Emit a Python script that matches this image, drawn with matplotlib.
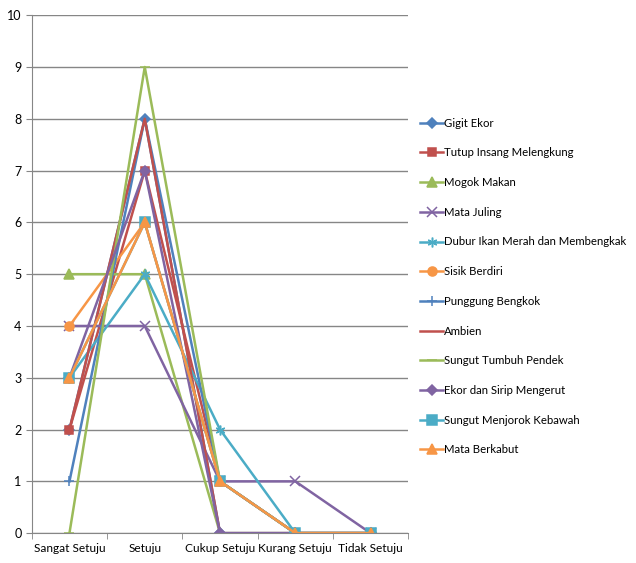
import matplotlib.pyplot as plt
import numpy as np

plt.rcParams['font.family'] = ['Lato', 'DejaVu Sans']

categories = ['Sangat Setuju', 'Setuju', 'Cukup Setuju', 'Kurang Setuju', 'Tidak Setuju']

gigit_ekor = [2, 8, 0, 0, 0]
tutup_insang = [2, 7, 1, 0, 0]
mogok_makan = [5, 5, 0, 0, 0]
mata_juling = [4, 4, 1, 1, 0]
dubur_ikan = [3, 5, 2, 0, 0]
sisik_berdiri = [4, 6, 1, 0, 0]
punggung_bengkok = [1, 8, 1, 0, 0]
ambien = [2, 8, 0, 0, 0]
sungut_tumbuh = [0, 9, 1, 0, 0]
ekor_sirip = [3, 7, 0, 0, 0]
sungut_menjorok = [3, 6, 1, 0, 0]
mata_berkabut = [3, 6, 1, 0, 0]

series = [
    ('Gigit Ekor', gigit_ekor, '#4F81BD', 'D', 5),
    ('Tutup Insang Melengkung', tutup_insang, '#C0504D', 's', 6),
    ('Mogok Makan', mogok_makan, '#9BBB59', '^', 6.5),
    ('Mata Juling', mata_juling, '#8064A2', 'x', 7),
    ('Dubur Ikan Merah dan Membengkak', dubur_ikan, '#4BACC6', (6, 2, 0), 7),
    ('Sisik Berdiri', sisik_berdiri, '#F79646', 'o', 6.5),
    ('Punggung Bengkok', punggung_bengkok, '#4F81BD', '+', 7),
    ('Ambien', ambien, '#C0504D', None, 0),
    ('Sungut Tumbuh Pendek', sungut_tumbuh, '#9BBB59', '_', 7),
    ('Ekor dan Sirip Mengerut', ekor_sirip, '#8064A2', 'D', 5),
    ('Sungut Menjorok Kebawah', sungut_menjorok, '#4BACC6', 's', 6.5),
    ('Mata Berkabut', mata_berkabut, '#F79646', '^', 6.5),
]

fig = plt.figure(figsize=(6.36, 5.63), dpi=100)
ax = fig.add_axes([0.050, 0.053, 0.592, 0.920])

x = np.arange(len(categories))
for name, vals, col, mk, ms in series:
    ax.plot(x, vals, color=col, marker=mk, markersize=ms, linewidth=1.8,
            markeredgewidth=1.1, label=name)

ax.set_xlim(-0.5, len(categories) - 0.5)
ax.set_ylim(0, 10)
ax.set_yticks(range(0, 11))
ax.set_xticks(x)
ax.set_xticklabels(categories, fontsize=8.6)
ax.set_xticks(np.arange(-0.5, len(categories)), minor=True)
ax.tick_params(axis='x', which='major', length=0, pad=7)
ax.tick_params(axis='x', which='minor', length=4, color='#868686')
ax.tick_params(axis='y', length=4, color='#868686', labelsize=9)
ax.grid(axis='y', color='#868686', linewidth=1)
ax.set_axisbelow(True)
for s in ['top', 'right']:
    ax.spines[s].set_visible(False)
ax.spines['left'].set_color('#868686')
ax.spines['bottom'].set_color('#868686')

fig.legend(loc='upper left', bbox_to_anchor=(0.645, 0.809), frameon=False,
           fontsize=8.2, handlelength=2.0, handletextpad=0.1,
           labelspacing=1.64)

fig.savefig('out.png', dpi=100)
